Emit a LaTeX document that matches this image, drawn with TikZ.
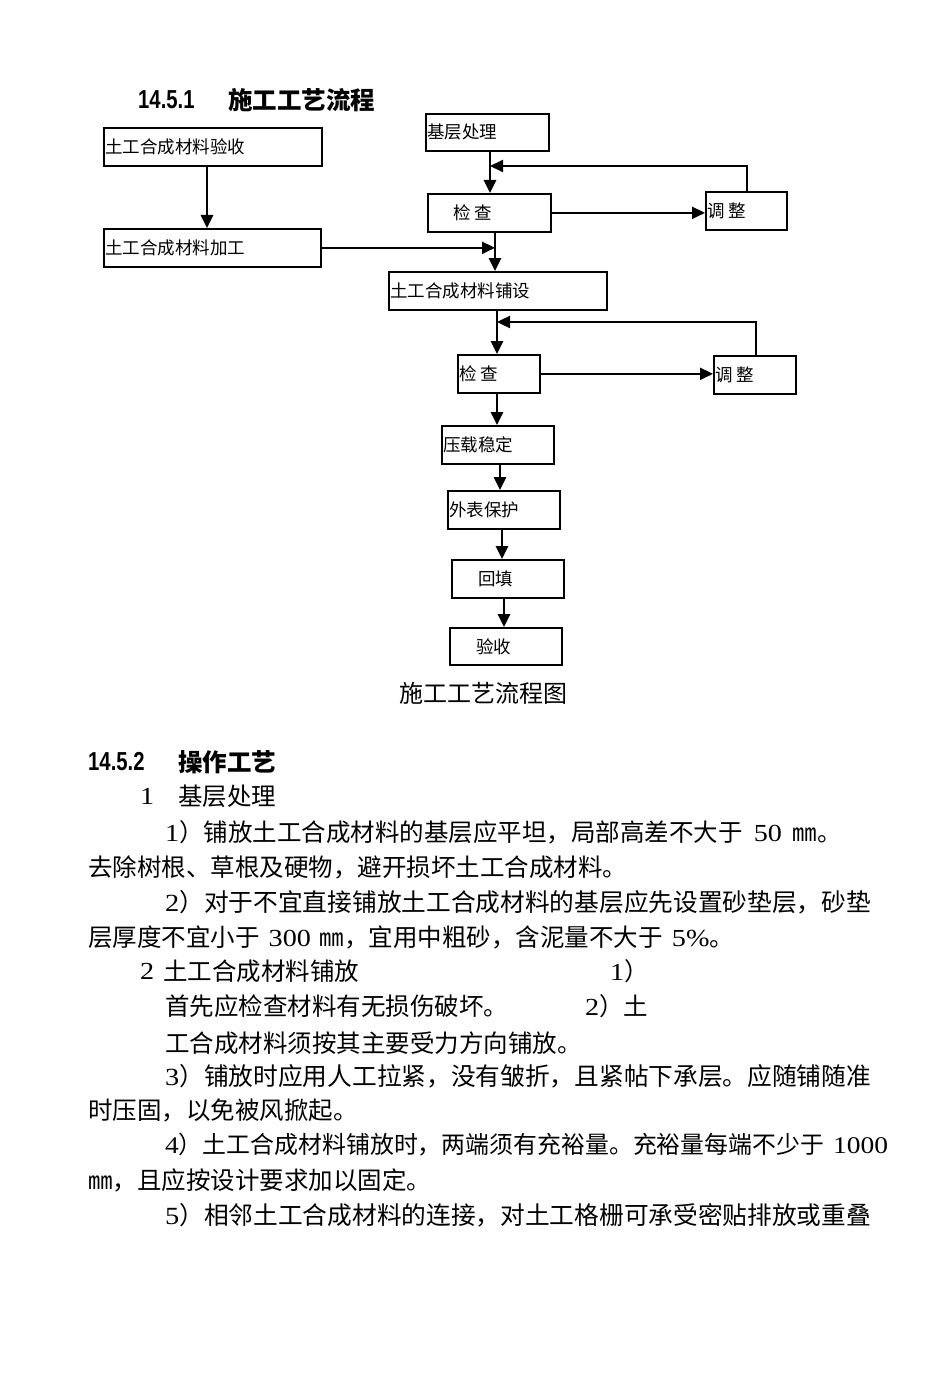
\documentclass[tikz,border=0pt]{standalone}
\usepackage{fontspec}
\setmainfont{Liberation Serif}
\newfontfamily\cjk{Noto Sans CJK SC}
\newfontfamily\hsf{Liberation Sans}[FakeStretch=0.78]
\newfontfamily\digf{Liberation Serif}[FakeStretch=1.15]
\usetikzlibrary{arrows.meta}
\newcommand\dg[1]{{\digf #1}}
\newcommand\bx[5]{\node[box,minimum width=#4pt,minimum height=#5pt] (#1) at (#2,#3) {};}
\begin{document}
\begin{tikzpicture}[x=1pt,y=-1pt,
  box/.style={draw, line width=1.7pt, inner sep=0pt, anchor=north west},
  lbl/.style={inner sep=0pt, anchor=west, font=\cjk\fontsize{17.5}{17.5}\selectfont},
  body/.style={inner sep=0pt, anchor=west, font=\cjk\fontsize{24.5}{24.5}\selectfont},
  wide/.style={font=\cjk\fontsize{24.7}{24.7}\selectfont},
  hnum/.style={inner sep=0pt, anchor=west, font=\hsf\bfseries\fontsize{26}{26}\selectfont},
  arr/.style={line width=2.6pt, -{Triangle[length=13pt,width=12pt]}},
  harr/.style={line width=2pt, -{Triangle[length=13pt,width=12pt]}}]
\fill[white] (0,0) rectangle (950,1380);
\useasboundingbox (0,0) rectangle (950,1380);

% heading
\node[hnum] (h1n) at (138,100) {14.5.1};
\node[body,font=\cjk\bfseries\fontsize{24.5}{24.5}\selectfont] (h1t) at (228,100) {施工工艺流程};

% boxes
\bx{ys}{103}{127}{218}{38}
\bx{jg}{103}{228}{217}{38}
\bx{jc}{425}{113}{123}{37}
\bx{jc1}{427}{193}{123}{38}
\bx{tz1}{705}{191}{81}{38}
\bx{ps}{388}{271}{218}{38}
\bx{jc2}{457}{354}{82}{38}
\bx{tz2}{713}{355}{82}{38}
\bx{yz}{441}{425}{112}{38}
\bx{wb}{447}{490}{112}{38}
\bx{ht}{451}{559}{112}{38}
\bx{ysb}{449}{627}{112}{37}

% labels
\node[lbl] (lys) at ([xshift=2pt]ys.west) {土工合成材料验收};
\node[lbl] (ljg) at ([xshift=2pt]jg.west) {土工合成材料加工};
\node[lbl] (ljc) at ([xshift=2pt]jc.west) {基层处理};
\node[lbl] (ljc1) at ([xshift=26pt]jc1.west) {检 查};
\node[lbl] (ltz1) at ([xshift=2pt]tz1.west) {调 整};
\node[lbl] (lps) at ([xshift=2pt]ps.west) {土工合成材料铺设};
\node[lbl] (ljc2) at ([xshift=2pt]jc2.west) {检 查};
\node[lbl] (ltz2) at ([xshift=2pt]tz2.west) {调 整};
\node[lbl] (lyz) at ([xshift=2pt]yz.west) {压载稳定};
\node[lbl] (lwb) at ([xshift=2pt]wb.west) {外表保护};
\node[lbl] (lht) at ([xshift=27pt]ht.west) {回填};
\node[lbl] (lysb) at ([xshift=27pt]ysb.west) {验收};

% x positions
\coordinate (x207) at (207,0);
\coordinate (x490) at (490,0);
\coordinate (x495) at (495,0);
\coordinate (x497) at (497,0);
\coordinate (x500) at (500,0);
\coordinate (x502) at (502,0);
\coordinate (x504) at (504,0);
\coordinate (x747) at (747,0);
\coordinate (x756) at (756,0);
\coordinate (fb1) at (490,166);
\coordinate (fb2) at (497,322);

% connectors
\draw[arr] (ys.south -| x207) -- (jg.north -| x207);
\draw[arr] (jc.south -| x490) -- (jc1.north -| x490);
\draw[arr] (jc1.south -| x495) -- (ps.north -| x495);
\draw[harr] (jg.east) -- (jg.east -| x495);
\draw[harr] (tz1.north -| x747) |- (fb1);
\draw[harr] (jc1.east) -- (tz1.west |- jc1.east);
\draw[arr] (ps.south -| x497) -- (jc2.north -| x497);
\draw[harr,line width=2.4pt] (tz2.north -| x756) |- (fb2);
\draw[harr] (jc2.east) -- (tz2.west |- jc2.east);
\draw[arr] (jc2.south -| x497) -- (yz.north -| x497);
\draw[arr] (yz.south -| x500) -- (wb.north -| x500);
\draw[arr] (wb.south -| x502) -- (ht.north -| x502);
\draw[arr] (ht.south -| x504) -- (ysb.north -| x504);

% caption
\node[body,anchor=center,font=\cjk\fontsize{24}{24}\selectfont] (cap) at (483,693) {施工工艺流程图};

% section 14.5.2
\node[hnum] (h2n) at (88,762) {14.5.2};
\node[body,font=\cjk\bfseries\fontsize{24.5}{24.5}\selectfont] (h2t) at (178,762) {操作工艺};
\node[body] (t1a) at (140,796) {\dg{1}};
\node[body] (t1b) at (178,796) {基层处理};
\node[body] (t2) at (165,832) {\dg{1}）铺放土工合成材料的基层应平坦，局部高差不大于\hspace{11pt}\dg{50}\hspace{11pt}㎜。};
\node[body] (t3) at (88,867) {去除树根、草根及硬物，避开损坏土工合成材料。};
\node[body,wide] (t4) at (165,902) {\dg{2}）对于不宜直接铺放土工合成材料的基层应先设置砂垫层，砂垫};
\node[body] (t5) at (88,937) {层厚度不宜小于\hspace{9pt}\dg{300}\hspace{9pt}㎜，宜用中粗砂，含泥量不大于\hspace{9pt}\dg{5\%}。};
\node[body] (t6a) at (140,971) {\dg{2}};
\node[body] (t6b) at (163,971) {土工合成材料铺放};
\node[body] (t6c) at (610,971) {\dg{1}）};
\node[body] (t7a) at (165,1006) {首先应检查材料有无损伤破坏。};
\node[body] (t7b) at (585,1006) {\dg{2}）土};
\node[body] (t8) at (165,1043) {工合成材料须按其主要受力方向铺放。};
\node[body,wide] (t9) at (165,1076) {\dg{3}）铺放时应用人工拉紧，没有皱折，且紧帖下承层。应随铺随准};
\node[body] (t10) at (88,1110) {时压固，以免被风掀起。};
\node[body,font=\cjk\fontsize{23.9}{23.9}\selectfont] (t11) at (165,1145) {\dg{4}）土工合成材料铺放时，两端须有充裕量。充裕量每端不少于\hspace{9pt}\dg{1000}};
\node[body] (t12) at (88,1180) {㎜，且应按设计要求加以固定。};
\node[body,wide] (t13) at (165,1215) {\dg{5}）相邻土工合成材料的连接，对土工格栅可承受密贴排放或重叠};
\end{tikzpicture}
\end{document}
